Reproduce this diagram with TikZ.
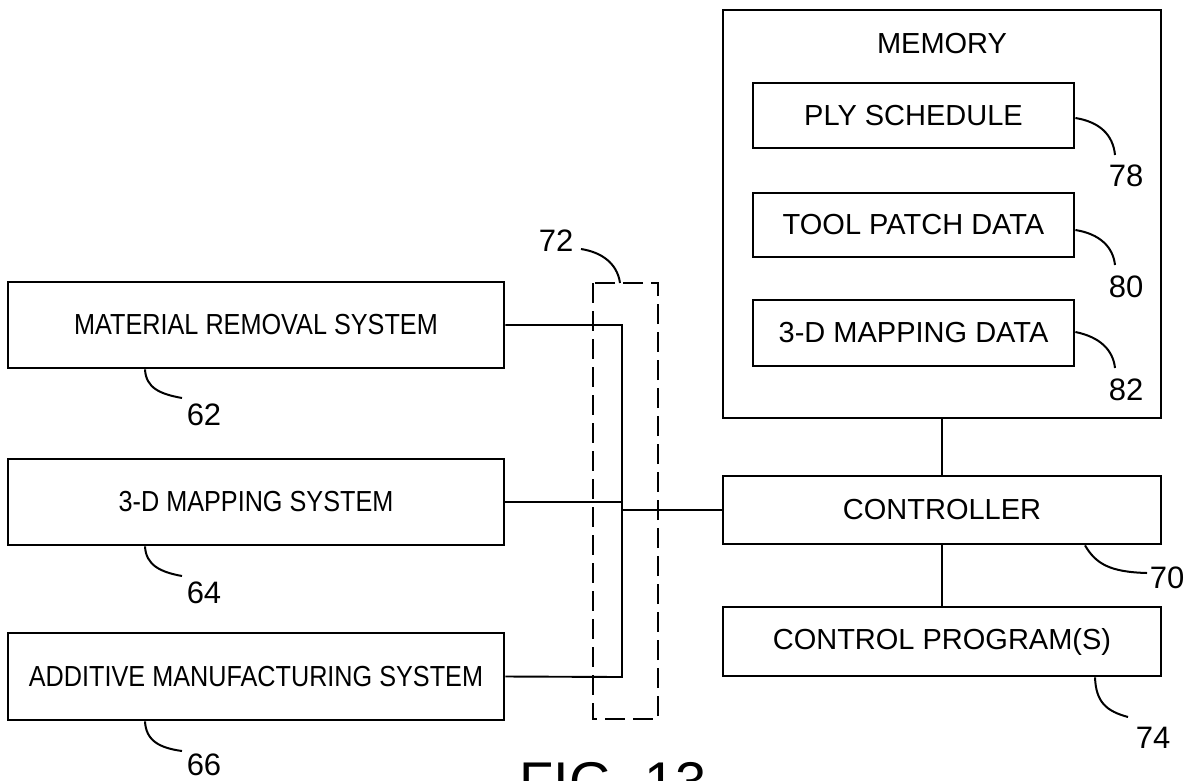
\documentclass[tikz,border=0pt]{standalone}
\usepackage{fontspec}
\setmainfont{Liberation Sans}
\newfontfamily\condfont[FakeStretch=0.87]{Liberation Sans}
\begin{document}
\begin{tikzpicture}[x=1pt,y=-1pt,
  box/.style={draw, line width=2.8pt, inner sep=0pt, font=\fontsize{29}{34}\selectfont},
  lbox/.style={box, minimum width=496pt, minimum height=86pt, font=\condfont\fontsize{29}{34}\selectfont},
  rbox/.style={box, minimum width=438pt},
  ibox/.style={box, minimum width=321pt, minimum height=65pt},
  num/.style={inner sep=0pt, font=\fontsize{31}{36}\selectfont},
  wire/.style={line width=1.9pt},
  leader/.style={line width=2pt},
  dbox/.style={line width=2.8pt, dash pattern=on 20pt off 8pt}]
\useasboundingbox (0,0) rectangle (1190,780);
\clip (0,0) rectangle (1190,780);
\fill[white] (0,0) rectangle (1190,780);

% left boxes
\node[lbox] (mr)  at (256,325)   {MATERIAL REMOVAL SYSTEM};
\node[lbox] (map) at (256,502)   {3-D MAPPING SYSTEM};
\node[lbox, minimum height=87pt] (am) at (256,676.5) {ADDITIVE MANUFACTURING SYSTEM};

% memory
\node[rbox, minimum height=408pt] (mem) at (942,214) {};
\node[inner sep=0pt, font=\fontsize{29}{34}\selectfont] (memt) at (942,44) {MEMORY};
\node[ibox] (ply)  at (913.5,115.5) {PLY SCHEDULE};
\node[ibox, minimum height=64pt] (tool) at (913.5,225) {TOOL PATCH DATA};
\node[ibox, minimum height=66pt] (mdat) at (913.5,333) {3-D MAPPING DATA};

% controller and program
\node[rbox, minimum height=68pt] (ctrl) at (942,510) {CONTROLLER};
\node[rbox, minimum height=69pt] (cp) at (942,641.5) {CONTROL PROGRAM(S)};

% dashed interface 72
\coordinate (d1) at (593,283);
\coordinate (d2) at (658,719);
\draw[dbox] (d1) rectangle (d2);

% bus
\coordinate (bt) at (622,325);
\coordinate (bb) at (622,677);
\draw[wire] (mr.east) -- (bt) -- (bb) -- (am.east);
\draw[wire] (map.east) -- (map.east -| bt);
\draw[wire] (ctrl.west) -- (ctrl.west -| bt);
\draw[wire] (mem.south) -- (ctrl.north);
\draw[wire] (ctrl.south) -- (cp.north);

% reference numerals
\node[num] (n62) at (204,415) {62};
\node[num] (n64) at (204,593) {64};
\node[num] (n66) at (204,765) {66};
\node[num] (n72) at (556,241) {72};
\node[num] (n78) at (1126,176) {78};
\node[num] (n80) at (1126,287) {80};
\node[num] (n82) at (1126,390) {82};
\node[num] (n70) at (1167,578) {70};
\node[num] (n74) at (1153,738) {74};

% leaders
\coordinate (l62) at (182,398);
\coordinate (l64) at (182,576);
\coordinate (l66) at (182,751);
\draw[leader] (mr.south -| 145,0) .. controls (146,388) and (160,394) .. (l62);
\draw[leader] (map.south -| 145,0) .. controls (146,565) and (160,572) .. (l64);
\draw[leader] (am.south -| 145,0) .. controls (146,741) and (160,748) .. (l66);
\coordinate (l72) at (581,249);
\draw[leader] (l72) .. controls (600,252) and (617,262) .. (620,283);
\coordinate (l78) at (1115,155);
\coordinate (l80) at (1115,265);
\coordinate (l82) at (1115,368);
\draw[leader] (ply.east |- 0,118) .. controls (1100,122) and (1113,135) .. (l78);
\draw[leader] (tool.east |- 0,230) .. controls (1100,234) and (1113,247) .. (l80);
\draw[leader] (mdat.east |- 0,332) .. controls (1100,337) and (1113,350) .. (l82);
\coordinate (l70) at (1147,573);
\draw[leader] (ctrl.south -| 1085,0) .. controls (1096,564) and (1110,572) .. (l70);
\coordinate (l74) at (1128,717);
\draw[leader] (cp.south -| 1095,0) .. controls (1096,702) and (1106,711) .. (l74);

% figure label (cut off at the lower edge, as in the reference)
\node[inner sep=0pt, anchor=base, font=\fontsize{56}{60}\selectfont] (fig) at (613,801) {FIG. 13};
\end{tikzpicture}
\end{document}
